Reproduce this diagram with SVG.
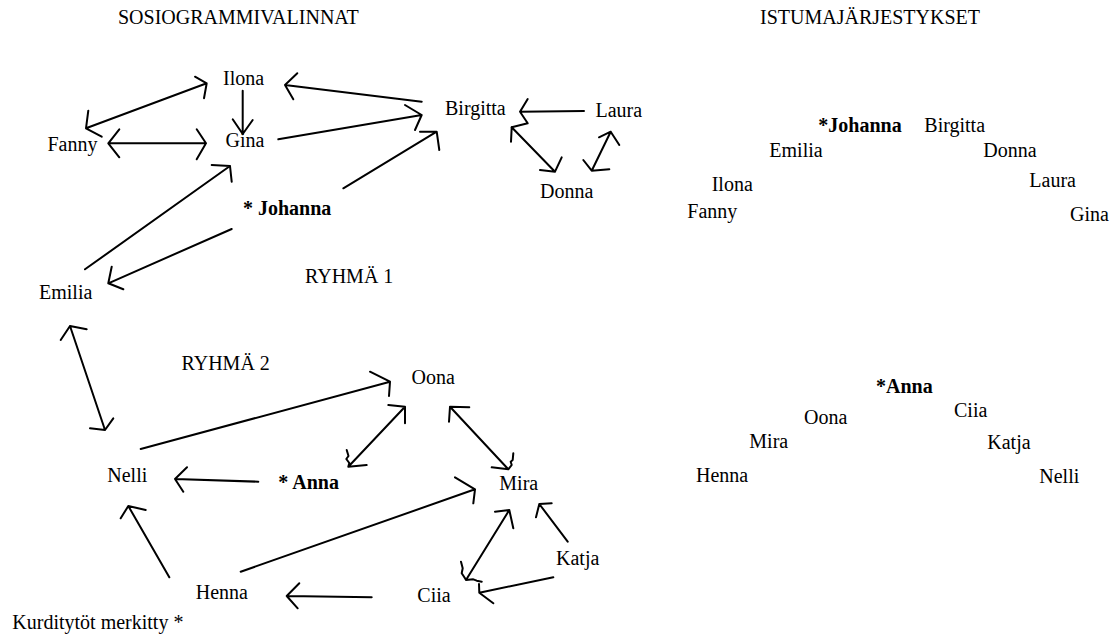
<svg xmlns="http://www.w3.org/2000/svg" width="1118" height="637" viewBox="0 0 1118 637">
<style>
  text { font-family: "Liberation Serif", "Times New Roman", serif; font-size: 20px; fill: #000; }
  .b { font-weight: bold; }
  .c { fill: none; stroke: #000; stroke-width: 2; stroke-linecap: round; stroke-linejoin: round; }
</style>
<rect width="1118" height="637" fill="#fff"/>

<g id="headings">
  <text x="118" y="24">SOSIOGRAMMIVALINNAT</text>
  <text x="760" y="24">ISTUMAJÄRJESTYKSET</text>
</g>

<g id="connectors">
  <!-- Fanny <-> Ilona -->
  <path class="c" d="M86,128.3 L206.7,83.3 M195,76.7 L206.7,83.3 L204,98.3 M88.3,110.7 L86,128.3 L101.7,136.7"/>
  <!-- Ilona -> Gina -->
  <path class="c" d="M242.7,90.7 L242.7,134 M232.7,119.3 L242.7,134 L252.7,120"/>
  <!-- Fanny <-> Gina -->
  <path class="c" d="M108.3,143.3 L206,143.3 M119.3,129.3 L108.3,143.3 L119.3,157.3 M196.7,129.3 L206,143.3 L196.7,159.3"/>
  <!-- Birgitta -> Ilona -->
  <path class="c" d="M421.7,101.7 L285,85 M297.3,73.3 L285,85 L293.3,99.3"/>
  <!-- Gina -> Birgitta -->
  <path class="c" d="M278.3,139.3 L421.7,115 M405,105 L421.7,115 L415,130"/>
  <!-- Johanna -> Birgitta -->
  <path class="c" d="M343.3,188.3 L436.7,131.7 M420,131.7 L436.7,131.7 L439.3,150"/>
  <!-- Emilia -> Gina -->
  <path class="c" d="M85,269.3 L230,166 M211.7,165 L230,166 L231.7,181.7"/>
  <!-- Johanna -> Emilia -->
  <path class="c" d="M231.7,229 L108.3,283.3 M111.7,266.7 L108.3,283.3 L123.3,289.3"/>
  <!-- Laura -> Birgitta -->
  <path class="c" d="M584,111 L520,111.7 M527.7,99 L520,111.7 L527.7,123.3 L511.7,127.3"/>
  <!-- Birgitta <-> Donna -->
  <path class="c" d="M511.7,127.3 L555,171.7 M511,141.7 L511.7,127.3 M561.7,157.3 L555,171.7 L540,170"/>
  <!-- Donna <-> Laura -->
  <path class="c" d="M591.7,170.7 L610.7,131.7 M599,137.3 L610.7,131.7 L619.3,145 M583.3,160 L591.7,170.7 L609.3,169.3"/>
  <!-- Emilia <-> Nelli -->
  <path class="c" d="M70,326 L105,430 M60.7,340 L70,326 L86.7,329.3 M90,428.3 L105,430 L113.3,418.3"/>
  <!-- Nelli -> Oona -->
  <path class="c" d="M140.7,449 L390,381.7 M370,371.7 L390,381.7 L389,396"/>
  <!-- Anna <-> Oona -->
  <path class="c" d="M348.3,466.7 L405,406.7 M388.3,405 L405,406.7 L405,423.3 M346.7,450 L348.5,456 L346.3,459 L349.3,463 L348.3,466.7 L366.7,465"/>
  <!-- Oona <-> Mira -->
  <path class="c" d="M450,406.7 L508.3,469.3 M469.3,407.3 L450,406.7 L449,421.7 M513.3,453.3 L512.7,460 L510.7,461.7 L511.7,465 L508.3,469.3 L491.7,467.3"/>
  <!-- Anna -> Nelli -->
  <path class="c" d="M258.3,481.7 L175,479 M187,467.3 L175,479 L183.3,491.7"/>
  <!-- Henna -> Nelli -->
  <path class="c" d="M169.3,577.3 L128.3,506 M120.7,518.3 L128.3,506 L145.7,510"/>
  <!-- Henna -> Mira -->
  <path class="c" d="M240.7,571.7 L475,489.3 M455,477.3 L475,489.3 L473.3,503.3"/>
  <!-- Ciia -> Henna -->
  <path class="c" d="M371.7,597.3 L286.7,596 M299.3,583.3 L286.7,596 L297.7,608.3"/>
  <!-- Mira <-> Ciia -->
  <path class="c" d="M466,580 L509.3,510 M495,511.7 L509.3,510 L513.3,528.3 M461,561.7 L462.7,568.3 L461.7,573.3 L465,578.3 L466,580 L473.3,579.3 L476.7,580.7 L481.7,581.7"/>
  <!-- Katja -> Mira -->
  <path class="c" d="M567.7,541.7 L539.3,504 M536,517.3 L539.3,504 L551.7,503.3"/>
  <!-- Katja -> Ciia -->
  <path class="c" d="M553.3,577.3 L479.3,592.7 M479,584 L479.3,592.7 L493.3,603.3"/>
</g>

<g id="group1-sociogram">
  <g id="n-ilona"><text x="223" y="85">Ilona</text></g>
  <g id="n-gina"><text x="225.5" y="147">Gina</text></g>
  <g id="n-fanny"><text x="47.5" y="151">Fanny</text></g>
  <g id="n-birgitta"><text x="445" y="115">Birgitta</text></g>
  <g id="n-laura"><text x="595.5" y="116.5">Laura</text></g>
  <g id="n-donna"><text x="540" y="198.3">Donna</text></g>
  <g id="n-johanna"><text class="b" x="243" y="215">* Johanna</text></g>
  <g id="n-emilia"><text x="39" y="299">Emilia</text></g>
  <g id="label-ryhma1"><text x="305" y="282.5">RYHMÄ 1</text></g>
</g>

<g id="group2-sociogram">
  <g id="label-ryhma2"><text x="181.5" y="370">RYHMÄ 2</text></g>
  <g id="n-oona"><text x="411.5" y="384">Oona</text></g>
  <g id="n-nelli"><text x="107.3" y="481.7">Nelli</text></g>
  <g id="n-anna"><text class="b" x="278.3" y="489.3">* Anna</text></g>
  <g id="n-mira"><text x="499.3" y="490">Mira</text></g>
  <g id="n-katja"><text x="556" y="565">Katja</text></g>
  <g id="n-henna"><text x="195.7" y="599.3">Henna</text></g>
  <g id="n-ciia"><text x="417.3" y="601.7">Ciia</text></g>
</g>

<g id="note"><text x="12.3" y="629.3">Kurditytöt merkitty *</text></g>

<g id="seating-1">
  <text class="b" x="818.3" y="132.3">*Johanna</text>
  <text x="924.3" y="132.3">Birgitta</text>
  <text x="769.3" y="156.7">Emilia</text>
  <text x="983.3" y="156.7">Donna</text>
  <text x="711.7" y="191">Ilona</text>
  <text x="1029.3" y="186.7">Laura</text>
  <text x="687.3" y="218.3">Fanny</text>
  <text x="1070" y="220.7">Gina</text>
</g>

<g id="seating-2">
  <text class="b" x="876" y="393.3">*Anna</text>
  <text x="954" y="417.3">Ciia</text>
  <text x="804" y="424">Oona</text>
  <text x="749.3" y="448.3">Mira</text>
  <text x="987.3" y="449.3">Katja</text>
  <text x="696" y="481.7">Henna</text>
  <text x="1039.3" y="483.3">Nelli</text>
</g>
</svg>
